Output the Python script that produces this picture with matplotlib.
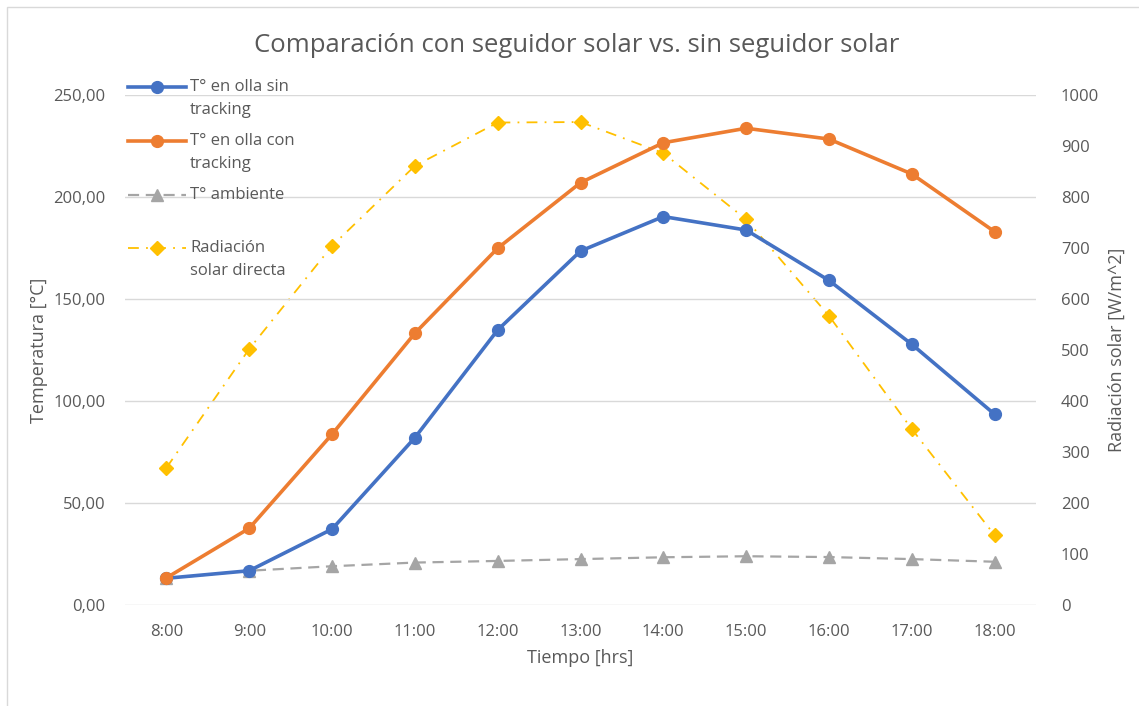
import matplotlib.pyplot as plt
from matplotlib.lines import Line2D
from matplotlib.patches import Rectangle
from matplotlib.ticker import FuncFormatter, MultipleLocator

plt.rcParams['font.family'] = ['Open Sans', 'DejaVu Sans']

horas = ["8:00", "9:00", "10:00", "11:00", "12:00", "13:00",
         "14:00", "15:00", "16:00", "17:00", "18:00"]
t_sin_tracking = [13.1, 16.8, 37.2, 82.0, 134.8, 173.5, 190.4, 183.8, 159.1, 127.8, 93.5]
t_con_tracking = [13.3, 37.6, 83.7, 133.2, 174.9, 207.0, 226.6, 233.7, 228.4, 211.3, 183.0]
t_ambiente = [13.0, 16.8, 19.0, 20.8, 21.6, 22.5, 23.4, 23.9, 23.5, 22.5, 21.2]
radiacion = [269, 502, 704, 861, 946, 947, 886, 756, 567, 345, 137]

gris_texto = "#595959"
azul = "#4472C4"
naranjo = "#ED7D31"
gris = "#A5A5A5"
amarillo = "#FFC000"

W, H = 1139, 706
fig = plt.figure(figsize=(W / 100, H / 100), dpi=100)

# marco del grafico
fig.add_artist(Rectangle((7 / W, -0.1), 1.2, (H - 7) / H + 0.1, transform=fig.transFigure,
                         fill=False, edgecolor="#D9D9D9", linewidth=1))

ax = fig.add_axes([125 / W, (H - 605) / H, (1036 - 125) / W, (605 - 95) / H])
ax2 = ax.twinx()

estilos = {
    "sin": dict(color=azul, lw=2.6, marker="o", ms=8.5),
    "con": dict(color=naranjo, lw=2.6, marker="o", ms=8.5),
    "amb": dict(color=gris, lw=1.6, ls=(0, (5, 3)), marker="^", ms=8.5),
    "rad": dict(color=amarillo, lw=1.3, ls=(0, (6, 4, 1, 4)), marker="D", ms=7),
}

x = list(range(len(horas)))
ax.plot(x, t_sin_tracking, zorder=4, **estilos["sin"])
ax.plot(x, t_con_tracking, zorder=4, **estilos["con"])
ax.plot(x, t_ambiente, zorder=3, **estilos["amb"])
ax2.plot(x, radiacion, zorder=3, **estilos["rad"])

ax.set_zorder(ax2.get_zorder() + 1)
ax.patch.set_visible(False)

ax.set_xlim(-0.5, len(horas) - 0.5)
ax.set_ylim(0, 250)
ax2.set_ylim(0, 1000)
ax.yaxis.set_major_locator(MultipleLocator(50))
ax2.yaxis.set_major_locator(MultipleLocator(100))
ax.yaxis.set_major_formatter(FuncFormatter(lambda v, p: f"{v:.2f}".replace(".", ",")))
ax.set_xticks(x)
ax.set_xticklabels(horas)

ax.grid(axis="y", color="#D9D9D9", lw=1)
ax.set_axisbelow(True)
for a in (ax, ax2):
    for s in a.spines.values():
        s.set_visible(False)
    a.tick_params(length=0, labelsize=12, labelcolor=gris_texto)
ax.tick_params(axis="y", pad=14)
ax.tick_params(axis="x", pad=14)
ax2.tick_params(axis="y", pad=18)

ax.set_xlabel("Tiempo [hrs]", fontsize=13, color=gris_texto, labelpad=6)
ax.set_ylabel("Temperatura [°C]", fontsize=13, color=gris_texto, labelpad=4)
ax2.set_ylabel("Radiación solar [W/m^2]", fontsize=13, color=gris_texto, labelpad=6)

fig.text(577 / W, 1 - 45 / H, "Comparación con seguidor solar vs. sin seguidor solar",
         ha="center", va="center", fontsize=18.5, color=gris_texto)

# leyenda: linea, marcador al centro y texto en una o dos lineas
entradas = [
    (["T° en olla sin", "tracking"], "sin", 87),
    (["T° en olla con", "tracking"], "con", 141),
    (["T° ambiente"], "amb", 195),
    (["Radiación", "solar directa"], "rad", 248),
]
for lineas, clave, yp in entradas:
    yf = 1 - yp / H
    est = dict(estilos[clave])
    marcador = est.pop("marker")
    ms = est.pop("ms")
    fig.add_artist(Line2D([128 / W, 186 / W], [yf, yf], transform=fig.transFigure, **est))
    fig.add_artist(Line2D([157 / W], [yf], transform=fig.transFigure, color=est["color"],
                          marker=marcador, ms=ms, ls="none"))
    for i, t in enumerate(lineas):
        fig.text(190 / W, 1 - (yp + 23 * i) / H, t, ha="left", va="center",
                 fontsize=12, color=gris_texto)

fig.savefig("out.png", dpi=100)
